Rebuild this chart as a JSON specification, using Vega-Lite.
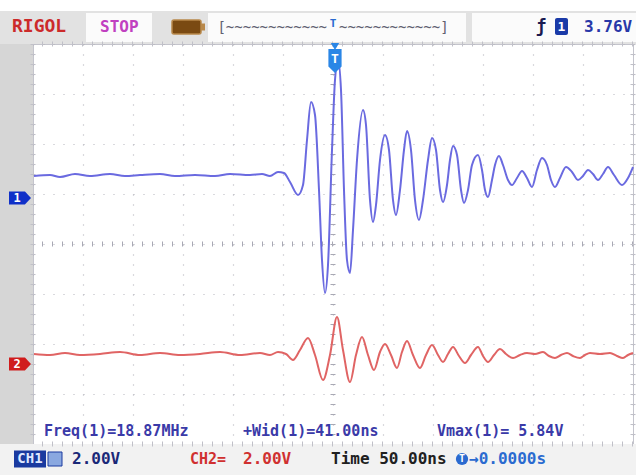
{
  "$schema": "https://vega.github.io/schema/vega-lite/v6.json",
  "width": 600,
  "height": 400,
  "autosize": {"type": "none"},
  "padding": {"left": 33, "top": 44, "right": 3, "bottom": 31},
  "background": "#ffffff",
  "config": {
    "view": {"stroke": "#c4c4cc", "fill": "#ffffff", "strokeWidth": 1},
    "axis": {"labels": false, "ticks": false, "domain": false, "grid": true, "gridColor": "#b4b4bc", "gridDash": [1, 9], "gridWidth": 1.2},
    "axisX": {"tickCount": 12},
    "axisY": {"tickCount": 8},
    "text": {"font": "DejaVu Sans Mono"}
  },
  "layer": [
    {"data": {"values": [{}]}, "mark": {"type": "rect", "color": "#e2e2e2"},
     "encoding": {"x": {"datum": -333, "type": "quantitative", "scale": {"domain": [-300, 300], "nice": false, "zero": false}, "title": null}, "x2": {"datum": 303},
                  "y": {"datum": 4.66, "type": "quantitative", "scale": {"domain": [-4, 4], "nice": false, "zero": false}, "title": null}, "y2": {"datum": 4.0}}},
    {"data": {"values": [{}]}, "mark": {"type": "rect", "color": "#d6d6d6"},
     "encoding": {"x": {"datum": -333, "type": "quantitative", "scale": {"domain": [-300, 300], "nice": false, "zero": false}, "title": null}, "x2": {"datum": -300},
                  "y": {"datum": 4.0, "type": "quantitative", "scale": {"domain": [-4, 4], "nice": false, "zero": false}, "title": null}, "y2": {"datum": -4.0}}},
    {"data": {"values": [{}]}, "mark": {"type": "rect", "color": "#f2f2f2"},
     "encoding": {"x": {"datum": -333, "type": "quantitative", "scale": {"domain": [-300, 300], "nice": false, "zero": false}, "title": null}, "x2": {"datum": 303},
                  "y": {"datum": -4.0, "type": "quantitative", "scale": {"domain": [-4, 4], "nice": false, "zero": false}, "title": null}, "y2": {"datum": -4.62}}},
    {"data": {"values": [{}]}, "mark": {"type": "rect", "color": "#fbfbfb"},
     "encoding": {"x": {"datum": -247, "type": "quantitative", "scale": {"domain": [-300, 300], "nice": false, "zero": false}, "title": null}, "x2": {"datum": -181},
                  "y": {"datum": 4.62, "type": "quantitative", "scale": {"domain": [-4, 4], "nice": false, "zero": false}, "title": null}, "y2": {"datum": 4.04}}},
    {"data": {"values": [{}]}, "mark": {"type": "rect", "color": "#fbfbfb"},
     "encoding": {"x": {"datum": -125, "type": "quantitative", "scale": {"domain": [-300, 300], "nice": false, "zero": false}, "title": null}, "x2": {"datum": 133},
                  "y": {"datum": 4.62, "type": "quantitative", "scale": {"domain": [-4, 4], "nice": false, "zero": false}, "title": null}, "y2": {"datum": 4.04}}},
    {"data": {"values": [{}]}, "mark": {"type": "rect", "color": "#fbfbfb"},
     "encoding": {"x": {"datum": 139, "type": "quantitative", "scale": {"domain": [-300, 300], "nice": false, "zero": false}, "title": null}, "x2": {"datum": 303},
                  "y": {"datum": 4.62, "type": "quantitative", "scale": {"domain": [-4, 4], "nice": false, "zero": false}, "title": null}, "y2": {"datum": 4.04}}},
    {"data": {"values": [{}]}, "mark": {"type": "rect", "color": "#7a4a12", "stroke": "#b8884a", "strokeWidth": 1.5, "cornerRadius": 2},
     "encoding": {"x": {"datum": -161, "type": "quantitative", "scale": {"domain": [-300, 300], "nice": false, "zero": false}, "title": null}, "x2": {"datum": -132},
                  "y": {"datum": 4.48, "type": "quantitative", "scale": {"domain": [-4, 4], "nice": false, "zero": false}, "title": null}, "y2": {"datum": 4.2}}},
    {"data": {"values": [{}]}, "mark": {"type": "rect", "color": "#b8884a"},
     "encoding": {"x": {"datum": -132, "type": "quantitative", "scale": {"domain": [-300, 300], "nice": false, "zero": false}, "title": null}, "x2": {"datum": -128},
                  "y": {"datum": 4.41, "type": "quantitative", "scale": {"domain": [-4, 4], "nice": false, "zero": false}, "title": null}, "y2": {"datum": 4.27}}},
    {"data": {"values": [{}]}, "mark": {"type": "rect", "color": "#1a3aa8", "cornerRadius": 2},
     "encoding": {"x": {"datum": 222, "type": "quantitative", "scale": {"domain": [-300, 300], "nice": false, "zero": false}, "title": null}, "x2": {"datum": 235},
                  "y": {"datum": 4.52, "type": "quantitative", "scale": {"domain": [-4, 4], "nice": false, "zero": false}, "title": null}, "y2": {"datum": 4.18}}},
    {"data": {"values": [{}]}, "mark": {"type": "rect", "color": "#1a3aa0"},
     "encoding": {"x": {"datum": -319, "type": "quantitative", "scale": {"domain": [-300, 300], "nice": false, "zero": false}, "title": null}, "x2": {"datum": -287},
                  "y": {"datum": -4.13, "type": "quantitative", "scale": {"domain": [-4, 4], "nice": false, "zero": false}, "title": null}, "y2": {"datum": -4.47}}},
    {"data": {"values": [{}]}, "mark": {"type": "rect", "color": "#8aa8e0", "stroke": "#1a3aa0", "strokeWidth": 1},
     "encoding": {"x": {"datum": -285, "type": "quantitative", "scale": {"domain": [-300, 300], "nice": false, "zero": false}, "title": null}, "x2": {"datum": -271},
                  "y": {"datum": -4.16, "type": "quantitative", "scale": {"domain": [-4, 4], "nice": false, "zero": false}, "title": null}, "y2": {"datum": -4.44}}},
    {"data": {"values": [{}]}, "mark": {"type": "rule", "color": "#a8a8b4", "strokeWidth": 5, "strokeDash": [1, 9]},
     "encoding": {"y": {"datum": 0, "type": "quantitative", "scale": {"domain": [-4, 4], "nice": false, "zero": false}, "title": null}}},
    {"data": {"values": [{}]}, "mark": {"type": "rule", "color": "#a8a8b4", "strokeWidth": 5, "strokeDash": [1, 9]},
     "encoding": {"x": {"datum": 0, "type": "quantitative", "scale": {"domain": [-300, 300], "nice": false, "zero": false}, "title": null}}},
    {"data": {"values": [{}]}, "mark": {"type": "rule", "color": "#c0c0c8", "strokeWidth": 5, "strokeDash": [1, 9]},
     "encoding": {"y": {"datum": 4, "type": "quantitative", "scale": {"domain": [-4, 4], "nice": false, "zero": false}, "title": null}}},
    {"data": {"values": [{}]}, "mark": {"type": "rule", "color": "#c0c0c8", "strokeWidth": 5, "strokeDash": [1, 9]},
     "encoding": {"y": {"datum": -4, "type": "quantitative", "scale": {"domain": [-4, 4], "nice": false, "zero": false}, "title": null}}},
    {"data": {"values": [{}]}, "mark": {"type": "rule", "color": "#c0c0c8", "strokeWidth": 5, "strokeDash": [1, 9]},
     "encoding": {"x": {"datum": -300, "type": "quantitative", "scale": {"domain": [-300, 300], "nice": false, "zero": false}, "title": null}}},
    {"data": {"values": [{}]}, "mark": {"type": "rule", "color": "#c0c0c8", "strokeWidth": 5, "strokeDash": [1, 9]},
     "encoding": {"x": {"datum": 300, "type": "quantitative", "scale": {"domain": [-300, 300], "nice": false, "zero": false}, "title": null}}},
    {"data": {"values": [
      {"ch": "CH1", "t": -299, "v": 1.36}, {"ch": "CH1", "t": -283, "v": 1.38}, {"ch": "CH1", "t": -273, "v": 1.34}, {"ch": "CH1", "t": -258, "v": 1.40},
      {"ch": "CH1", "t": -243, "v": 1.36}, {"ch": "CH1", "t": -223, "v": 1.40}, {"ch": "CH1", "t": -208, "v": 1.36}, {"ch": "CH1", "t": -193, "v": 1.38},
      {"ch": "CH1", "t": -173, "v": 1.40}, {"ch": "CH1", "t": -158, "v": 1.36}, {"ch": "CH1", "t": -138, "v": 1.38}, {"ch": "CH1", "t": -118, "v": 1.36},
      {"ch": "CH1", "t": -103, "v": 1.40}, {"ch": "CH1", "t": -83, "v": 1.38}, {"ch": "CH1", "t": -71, "v": 1.40}, {"ch": "CH1", "t": -63, "v": 1.36},
      {"ch": "CH1", "t": -55, "v": 1.44}, {"ch": "CH1", "t": -49, "v": 1.42}, {"ch": "CH1", "t": -43, "v": 1.24}, {"ch": "CH1", "t": -35, "v": 0.98},
      {"ch": "CH1", "t": -30, "v": 1.18}, {"ch": "CH1", "t": -26, "v": 2.08}, {"ch": "CH1", "t": -22, "v": 2.84}, {"ch": "CH1", "t": -18, "v": 2.58},
      {"ch": "CH1", "t": -14, "v": 1.08}, {"ch": "CH1", "t": -11, "v": -0.32}, {"ch": "CH1", "t": -8, "v": -0.98}, {"ch": "CH1", "t": -5, "v": -0.42},
      {"ch": "CH1", "t": -1, "v": 1.88}, {"ch": "CH1", "t": 2, "v": 3.28}, {"ch": "CH1", "t": 5, "v": 3.68}, {"ch": "CH1", "t": 8, "v": 3.08},
      {"ch": "CH1", "t": 11, "v": 1.08}, {"ch": "CH1", "t": 14, "v": -0.32}, {"ch": "CH1", "t": 17, "v": -0.58}, {"ch": "CH1", "t": 20, "v": 0.28},
      {"ch": "CH1", "t": 24, "v": 1.68}, {"ch": "CH1", "t": 30, "v": 2.68}, {"ch": "CH1", "t": 33, "v": 2.38}, {"ch": "CH1", "t": 37, "v": 0.88},
      {"ch": "CH1", "t": 40, "v": 0.44}, {"ch": "CH1", "t": 43, "v": 0.78}, {"ch": "CH1", "t": 47, "v": 1.68}, {"ch": "CH1", "t": 52, "v": 2.18},
      {"ch": "CH1", "t": 56, "v": 1.88}, {"ch": "CH1", "t": 60, "v": 0.88}, {"ch": "CH1", "t": 63, "v": 0.58}, {"ch": "CH1", "t": 67, "v": 1.08},
      {"ch": "CH1", "t": 71, "v": 1.88}, {"ch": "CH1", "t": 74, "v": 2.26}, {"ch": "CH1", "t": 78, "v": 1.88}, {"ch": "CH1", "t": 82, "v": 0.88},
      {"ch": "CH1", "t": 86, "v": 0.48}, {"ch": "CH1", "t": 90, "v": 0.88}, {"ch": "CH1", "t": 95, "v": 1.68}, {"ch": "CH1", "t": 99, "v": 2.12},
      {"ch": "CH1", "t": 103, "v": 1.88}, {"ch": "CH1", "t": 107, "v": 1.08}, {"ch": "CH1", "t": 110, "v": 0.84}, {"ch": "CH1", "t": 114, "v": 1.18},
      {"ch": "CH1", "t": 117, "v": 1.68}, {"ch": "CH1", "t": 120, "v": 1.96}, {"ch": "CH1", "t": 124, "v": 1.78}, {"ch": "CH1", "t": 128, "v": 1.08},
      {"ch": "CH1", "t": 131, "v": 0.82}, {"ch": "CH1", "t": 135, "v": 1.08}, {"ch": "CH1", "t": 139, "v": 1.58}, {"ch": "CH1", "t": 145, "v": 1.78},
      {"ch": "CH1", "t": 149, "v": 1.48}, {"ch": "CH1", "t": 152, "v": 1.08}, {"ch": "CH1", "t": 155, "v": 0.94}, {"ch": "CH1", "t": 159, "v": 1.28},
      {"ch": "CH1", "t": 162, "v": 1.58}, {"ch": "CH1", "t": 166, "v": 1.76}, {"ch": "CH1", "t": 170, "v": 1.58}, {"ch": "CH1", "t": 175, "v": 1.28},
      {"ch": "CH1", "t": 179, "v": 1.18}, {"ch": "CH1", "t": 184, "v": 1.32}, {"ch": "CH1", "t": 189, "v": 1.46}, {"ch": "CH1", "t": 194, "v": 1.32},
      {"ch": "CH1", "t": 199, "v": 1.14}, {"ch": "CH1", "t": 204, "v": 1.48}, {"ch": "CH1", "t": 209, "v": 1.72}, {"ch": "CH1", "t": 214, "v": 1.58},
      {"ch": "CH1", "t": 218, "v": 1.28}, {"ch": "CH1", "t": 222, "v": 1.14}, {"ch": "CH1", "t": 227, "v": 1.32}, {"ch": "CH1", "t": 233, "v": 1.54},
      {"ch": "CH1", "t": 239, "v": 1.44}, {"ch": "CH1", "t": 245, "v": 1.28}, {"ch": "CH1", "t": 250, "v": 1.36}, {"ch": "CH1", "t": 255, "v": 1.48},
      {"ch": "CH1", "t": 260, "v": 1.40}, {"ch": "CH1", "t": 265, "v": 1.28}, {"ch": "CH1", "t": 270, "v": 1.40}, {"ch": "CH1", "t": 275, "v": 1.54},
      {"ch": "CH1", "t": 281, "v": 1.38}, {"ch": "CH1", "t": 289, "v": 1.18}, {"ch": "CH1", "t": 295, "v": 1.32}, {"ch": "CH1", "t": 300, "v": 1.54},
      {"ch": "CH2", "t": -299, "v": -2.20}, {"ch": "CH2", "t": -283, "v": -2.22}, {"ch": "CH2", "t": -268, "v": -2.18}, {"ch": "CH2", "t": -253, "v": -2.22},
      {"ch": "CH2", "t": -233, "v": -2.20}, {"ch": "CH2", "t": -213, "v": -2.16}, {"ch": "CH2", "t": -193, "v": -2.22}, {"ch": "CH2", "t": -173, "v": -2.18},
      {"ch": "CH2", "t": -153, "v": -2.22}, {"ch": "CH2", "t": -133, "v": -2.20}, {"ch": "CH2", "t": -113, "v": -2.16}, {"ch": "CH2", "t": -93, "v": -2.22},
      {"ch": "CH2", "t": -73, "v": -2.18}, {"ch": "CH2", "t": -63, "v": -2.22}, {"ch": "CH2", "t": -55, "v": -2.16}, {"ch": "CH2", "t": -47, "v": -2.20},
      {"ch": "CH2", "t": -40, "v": -2.32}, {"ch": "CH2", "t": -33, "v": -2.12}, {"ch": "CH2", "t": -25, "v": -1.88}, {"ch": "CH2", "t": -18, "v": -2.22},
      {"ch": "CH2", "t": -10, "v": -2.72}, {"ch": "CH2", "t": -3, "v": -2.22}, {"ch": "CH2", "t": 4, "v": -1.46}, {"ch": "CH2", "t": 10, "v": -2.12},
      {"ch": "CH2", "t": 17, "v": -2.76}, {"ch": "CH2", "t": 23, "v": -2.22}, {"ch": "CH2", "t": 29, "v": -1.86}, {"ch": "CH2", "t": 35, "v": -2.22},
      {"ch": "CH2", "t": 41, "v": -2.52}, {"ch": "CH2", "t": 47, "v": -2.16}, {"ch": "CH2", "t": 52, "v": -2.00}, {"ch": "CH2", "t": 58, "v": -2.22},
      {"ch": "CH2", "t": 64, "v": -2.48}, {"ch": "CH2", "t": 69, "v": -2.16}, {"ch": "CH2", "t": 74, "v": -1.94}, {"ch": "CH2", "t": 80, "v": -2.22},
      {"ch": "CH2", "t": 87, "v": -2.48}, {"ch": "CH2", "t": 93, "v": -2.22}, {"ch": "CH2", "t": 99, "v": -2.02}, {"ch": "CH2", "t": 105, "v": -2.22},
      {"ch": "CH2", "t": 110, "v": -2.36}, {"ch": "CH2", "t": 115, "v": -2.20}, {"ch": "CH2", "t": 120, "v": -2.06}, {"ch": "CH2", "t": 126, "v": -2.24},
      {"ch": "CH2", "t": 132, "v": -2.38}, {"ch": "CH2", "t": 138, "v": -2.22}, {"ch": "CH2", "t": 145, "v": -2.06}, {"ch": "CH2", "t": 150, "v": -2.24},
      {"ch": "CH2", "t": 155, "v": -2.36}, {"ch": "CH2", "t": 161, "v": -2.22}, {"ch": "CH2", "t": 167, "v": -2.10}, {"ch": "CH2", "t": 173, "v": -2.20},
      {"ch": "CH2", "t": 180, "v": -2.28}, {"ch": "CH2", "t": 187, "v": -2.22}, {"ch": "CH2", "t": 194, "v": -2.18}, {"ch": "CH2", "t": 202, "v": -2.20},
      {"ch": "CH2", "t": 210, "v": -2.16}, {"ch": "CH2", "t": 216, "v": -2.24}, {"ch": "CH2", "t": 222, "v": -2.28}, {"ch": "CH2", "t": 228, "v": -2.22},
      {"ch": "CH2", "t": 234, "v": -2.18}, {"ch": "CH2", "t": 240, "v": -2.24}, {"ch": "CH2", "t": 247, "v": -2.28}, {"ch": "CH2", "t": 252, "v": -2.22},
      {"ch": "CH2", "t": 257, "v": -2.18}, {"ch": "CH2", "t": 267, "v": -2.20}, {"ch": "CH2", "t": 277, "v": -2.18}, {"ch": "CH2", "t": 284, "v": -2.24},
      {"ch": "CH2", "t": 290, "v": -2.28}, {"ch": "CH2", "t": 295, "v": -2.22}, {"ch": "CH2", "t": 300, "v": -2.18}
    ]},
     "mark": {"type": "line", "strokeWidth": 2, "interpolate": "monotone"},
     "encoding": {
       "x": {"field": "t", "type": "quantitative", "scale": {"domain": [-300, 300], "nice": false, "zero": false}, "title": null},
       "y": {"field": "v", "type": "quantitative", "scale": {"domain": [-4, 4], "nice": false, "zero": false}, "title": null},
       "color": {"field": "ch", "type": "nominal", "scale": {"domain": ["CH1", "CH2"], "range": ["#6a6ae0", "#e06464"]}, "legend": null}
     }},
    {"data": {"values": [{}]}, "mark": {"type": "point", "shape": "M-1,-0.6L0.45,-0.6L1,0L0.45,0.6L-1,0.6Z", "size": 484, "filled": true, "color": "#1030c8", "opacity": 1},
     "encoding": {"x": {"datum": -313, "type": "quantitative", "scale": {"domain": [-300, 300], "nice": false, "zero": false}, "title": null},
                  "y": {"datum": 0.92, "type": "quantitative", "scale": {"domain": [-4, 4], "nice": false, "zero": false}, "title": null}}},
    {"data": {"values": [{}]}, "mark": {"type": "point", "shape": "M-1,-0.6L0.45,-0.6L1,0L0.45,0.6L-1,0.6Z", "size": 484, "filled": true, "color": "#d01c1c", "opacity": 1},
     "encoding": {"x": {"datum": -313, "type": "quantitative", "scale": {"domain": [-300, 300], "nice": false, "zero": false}, "title": null},
                  "y": {"datum": -2.4, "type": "quantitative", "scale": {"domain": [-4, 4], "nice": false, "zero": false}, "title": null}}},
    {"data": {"values": [{}]}, "mark": {"type": "point", "shape": "M-0.55,-1L0.55,-1L0.55,0.45L0,1L-0.55,0.45Z", "size": 576, "filled": true, "color": "#2a86e6", "opacity": 1},
     "encoding": {"x": {"datum": 2, "type": "quantitative", "scale": {"domain": [-300, 300], "nice": false, "zero": false}, "title": null},
                  "y": {"datum": 3.66, "type": "quantitative", "scale": {"domain": [-4, 4], "nice": false, "zero": false}, "title": null}}},
    {"data": {"values": [{}]}, "mark": {"type": "point", "shape": "triangle-down", "size": 70, "filled": true, "color": "#2a86e6", "opacity": 1},
     "encoding": {"x": {"datum": 2, "type": "quantitative", "scale": {"domain": [-300, 300], "nice": false, "zero": false}, "title": null},
                  "y": {"datum": 3.95, "type": "quantitative", "scale": {"domain": [-4, 4], "nice": false, "zero": false}, "title": null}}},
    {"data": {"values": [{}]}, "mark": {"type": "text", "text": "T", "align": "center", "baseline": "middle", "fontSize": 13, "fontWeight": "bold", "color": "#ffffff"},
     "encoding": {"x": {"datum": 2, "type": "quantitative", "scale": {"domain": [-300, 300], "nice": false, "zero": false}, "title": null},
                  "y": {"datum": 3.7, "type": "quantitative", "scale": {"domain": [-4, 4], "nice": false, "zero": false}, "title": null}}},
    {"data": {"values": [{}]}, "mark": {"type": "text", "text": "1", "align": "center", "baseline": "middle", "fontSize": 12, "fontWeight": "bold", "color": "#ffffff"},
     "encoding": {"x": {"datum": -316, "type": "quantitative", "scale": {"domain": [-300, 300], "nice": false, "zero": false}, "title": null},
                  "y": {"datum": 0.92, "type": "quantitative", "scale": {"domain": [-4, 4], "nice": false, "zero": false}, "title": null}}},
    {"data": {"values": [{}]}, "mark": {"type": "text", "text": "2", "align": "center", "baseline": "middle", "fontSize": 12, "fontWeight": "bold", "color": "#ffffff"},
     "encoding": {"x": {"datum": -316, "type": "quantitative", "scale": {"domain": [-300, 300], "nice": false, "zero": false}, "title": null},
                  "y": {"datum": -2.4, "type": "quantitative", "scale": {"domain": [-4, 4], "nice": false, "zero": false}, "title": null}}},
    {"data": {"values": [{}]}, "mark": {"type": "text", "text": "RIGOL", "align": "left", "baseline": "middle", "fontSize": 18, "fontWeight": "bold", "color": "#cc2a2a"},
     "encoding": {"x": {"datum": -321, "type": "quantitative", "scale": {"domain": [-300, 300], "nice": false, "zero": false}, "title": null},
                  "y": {"datum": 4.34, "type": "quantitative", "scale": {"domain": [-4, 4], "nice": false, "zero": false}, "title": null}}},
    {"data": {"values": [{}]}, "mark": {"type": "text", "text": "STOP", "align": "left", "baseline": "middle", "fontSize": 16, "fontWeight": "bold", "color": "#c040c0"},
     "encoding": {"x": {"datum": -233, "type": "quantitative", "scale": {"domain": [-300, 300], "nice": false, "zero": false}, "title": null},
                  "y": {"datum": 4.34, "type": "quantitative", "scale": {"domain": [-4, 4], "nice": false, "zero": false}, "title": null}}},
    {"data": {"values": [{}]}, "mark": {"type": "text", "text": "[~~~~~~~~~~~~", "align": "right", "baseline": "middle", "fontSize": 14, "color": "#606070"},
     "encoding": {"x": {"datum": -6, "type": "quantitative", "scale": {"domain": [-300, 300], "nice": false, "zero": false}, "title": null},
                  "y": {"datum": 4.32, "type": "quantitative", "scale": {"domain": [-4, 4], "nice": false, "zero": false}, "title": null}}},
    {"data": {"values": [{}]}, "mark": {"type": "text", "text": "~~~~~~~~~~~~]", "align": "left", "baseline": "middle", "fontSize": 14, "color": "#606070"},
     "encoding": {"x": {"datum": 6, "type": "quantitative", "scale": {"domain": [-300, 300], "nice": false, "zero": false}, "title": null},
                  "y": {"datum": 4.32, "type": "quantitative", "scale": {"domain": [-4, 4], "nice": false, "zero": false}, "title": null}}},
    {"data": {"values": [{}]}, "mark": {"type": "text", "text": "T", "align": "center", "baseline": "middle", "fontSize": 11, "fontWeight": "bold", "color": "#2a6ad0"},
     "encoding": {"x": {"datum": 0, "type": "quantitative", "scale": {"domain": [-300, 300], "nice": false, "zero": false}, "title": null},
                  "y": {"datum": 4.4, "type": "quantitative", "scale": {"domain": [-4, 4], "nice": false, "zero": false}, "title": null}}},
    {"data": {"values": [{}]}, "mark": {"type": "text", "text": "ƒ", "align": "center", "baseline": "middle", "fontSize": 17, "fontWeight": "bold", "color": "#1a1a50"},
     "encoding": {"x": {"datum": 208, "type": "quantitative", "scale": {"domain": [-300, 300], "nice": false, "zero": false}, "title": null},
                  "y": {"datum": 4.34, "type": "quantitative", "scale": {"domain": [-4, 4], "nice": false, "zero": false}, "title": null}}},
    {"data": {"values": [{}]}, "mark": {"type": "text", "text": "1", "align": "center", "baseline": "middle", "fontSize": 13, "fontWeight": "bold", "color": "#ffffff"},
     "encoding": {"x": {"datum": 228.5, "type": "quantitative", "scale": {"domain": [-300, 300], "nice": false, "zero": false}, "title": null},
                  "y": {"datum": 4.34, "type": "quantitative", "scale": {"domain": [-4, 4], "nice": false, "zero": false}, "title": null}}},
    {"data": {"values": [{}]}, "mark": {"type": "text", "text": "3.76V", "align": "left", "baseline": "middle", "fontSize": 16, "fontWeight": "bold", "color": "#2838a8"},
     "encoding": {"x": {"datum": 251, "type": "quantitative", "scale": {"domain": [-300, 300], "nice": false, "zero": false}, "title": null},
                  "y": {"datum": 4.34, "type": "quantitative", "scale": {"domain": [-4, 4], "nice": false, "zero": false}, "title": null}}},
    {"data": {"values": [{}]}, "mark": {"type": "text", "text": "Freq(1)=18.87MHz", "align": "left", "baseline": "middle", "fontSize": 15, "fontWeight": "bold", "color": "#3a3aa8"},
     "encoding": {"x": {"datum": -289, "type": "quantitative", "scale": {"domain": [-300, 300], "nice": false, "zero": false}, "title": null},
                  "y": {"datum": -3.74, "type": "quantitative", "scale": {"domain": [-4, 4], "nice": false, "zero": false}, "title": null}}},
    {"data": {"values": [{}]}, "mark": {"type": "text", "text": "+Wid(1)=41.00ns", "align": "left", "baseline": "middle", "fontSize": 15, "fontWeight": "bold", "color": "#3a3aa8"},
     "encoding": {"x": {"datum": -90, "type": "quantitative", "scale": {"domain": [-300, 300], "nice": false, "zero": false}, "title": null},
                  "y": {"datum": -3.74, "type": "quantitative", "scale": {"domain": [-4, 4], "nice": false, "zero": false}, "title": null}}},
    {"data": {"values": [{}]}, "mark": {"type": "text", "text": "Vmax(1)= 5.84V", "align": "left", "baseline": "middle", "fontSize": 15, "fontWeight": "bold", "color": "#3a3aa8"},
     "encoding": {"x": {"datum": 104, "type": "quantitative", "scale": {"domain": [-300, 300], "nice": false, "zero": false}, "title": null},
                  "y": {"datum": -3.74, "type": "quantitative", "scale": {"domain": [-4, 4], "nice": false, "zero": false}, "title": null}}},
    {"data": {"values": [{}]}, "mark": {"type": "text", "text": "CH1", "align": "center", "baseline": "middle", "fontSize": 14, "fontWeight": "bold", "color": "#dfe8ff"},
     "encoding": {"x": {"datum": -303, "type": "quantitative", "scale": {"domain": [-300, 300], "nice": false, "zero": false}, "title": null},
                  "y": {"datum": -4.3, "type": "quantitative", "scale": {"domain": [-4, 4], "nice": false, "zero": false}, "title": null}}},
    {"data": {"values": [{}]}, "mark": {"type": "text", "text": "2.00V", "align": "left", "baseline": "middle", "fontSize": 16, "fontWeight": "bold", "color": "#1a2878"},
     "encoding": {"x": {"datum": -261, "type": "quantitative", "scale": {"domain": [-300, 300], "nice": false, "zero": false}, "title": null},
                  "y": {"datum": -4.3, "type": "quantitative", "scale": {"domain": [-4, 4], "nice": false, "zero": false}, "title": null}}},
    {"data": {"values": [{}]}, "mark": {"type": "text", "text": "CH2=", "align": "left", "baseline": "middle", "fontSize": 15, "fontWeight": "bold", "color": "#d03030"},
     "encoding": {"x": {"datum": -143, "type": "quantitative", "scale": {"domain": [-300, 300], "nice": false, "zero": false}, "title": null},
                  "y": {"datum": -4.3, "type": "quantitative", "scale": {"domain": [-4, 4], "nice": false, "zero": false}, "title": null}}},
    {"data": {"values": [{}]}, "mark": {"type": "text", "text": "2.00V", "align": "left", "baseline": "middle", "fontSize": 16, "fontWeight": "bold", "color": "#d03030"},
     "encoding": {"x": {"datum": -90, "type": "quantitative", "scale": {"domain": [-300, 300], "nice": false, "zero": false}, "title": null},
                  "y": {"datum": -4.3, "type": "quantitative", "scale": {"domain": [-4, 4], "nice": false, "zero": false}, "title": null}}},
    {"data": {"values": [{}]}, "mark": {"type": "text", "text": "Time 50.00ns", "align": "left", "baseline": "middle", "fontSize": 16, "fontWeight": "bold", "color": "#202020"},
     "encoding": {"x": {"datum": -2, "type": "quantitative", "scale": {"domain": [-300, 300], "nice": false, "zero": false}, "title": null},
                  "y": {"datum": -4.3, "type": "quantitative", "scale": {"domain": [-4, 4], "nice": false, "zero": false}, "title": null}}},
    {"data": {"values": [{}]}, "mark": {"type": "point", "shape": "circle", "size": 150, "filled": true, "color": "#2a6ad0", "opacity": 1},
     "encoding": {"x": {"datum": 129, "type": "quantitative", "scale": {"domain": [-300, 300], "nice": false, "zero": false}, "title": null},
                  "y": {"datum": -4.3, "type": "quantitative", "scale": {"domain": [-4, 4], "nice": false, "zero": false}, "title": null}}},
    {"data": {"values": [{}]}, "mark": {"type": "text", "text": "T", "align": "center", "baseline": "middle", "fontSize": 10, "fontWeight": "bold", "color": "#ffffff"},
     "encoding": {"x": {"datum": 129, "type": "quantitative", "scale": {"domain": [-300, 300], "nice": false, "zero": false}, "title": null},
                  "y": {"datum": -4.3, "type": "quantitative", "scale": {"domain": [-4, 4], "nice": false, "zero": false}, "title": null}}},
    {"data": {"values": [{}]}, "mark": {"type": "text", "text": "→0.0000s", "align": "left", "baseline": "middle", "fontSize": 16, "fontWeight": "bold", "color": "#2a6ad0"},
     "encoding": {"x": {"datum": 136, "type": "quantitative", "scale": {"domain": [-300, 300], "nice": false, "zero": false}, "title": null},
                  "y": {"datum": -4.3, "type": "quantitative", "scale": {"domain": [-4, 4], "nice": false, "zero": false}, "title": null}}}
  ]
}
